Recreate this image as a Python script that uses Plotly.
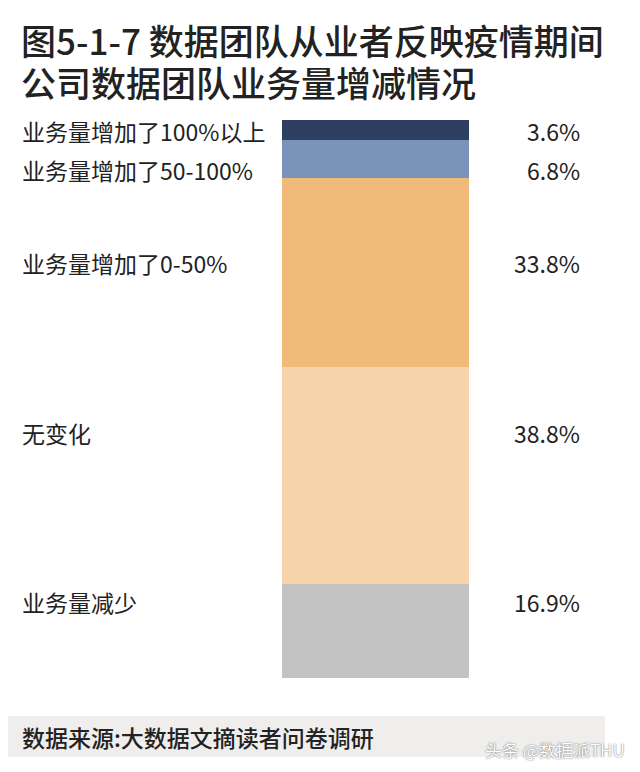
import plotly.graph_objects as go

title_lines = ["图5-1-7 数据团队从业者反映疫情期间", "公司数据团队业务量增减情况"]
categories = ["业务量增加了100%以上", "业务量增加了50-100%", "业务量增加了0-50%", "无变化", "业务量减少"]
values = [3.6, 6.8, 33.8, 38.8, 16.9]
value_labels = ["3.6%", "6.8%", "33.8%", "38.8%", "16.9%"]
colors = ["#2f3f62", "#7b93b8", "#f0bb78", "#f6d3a8", "#c3c3c3"]
label_px = [131, 170, 263, 433, 602]  # vertical pixel positions of the side labels
title_px = [39, 81]

# The page body adds an 8px margin; work in window pixels and subtract it.
OFF = 8
W, H = 640 - OFF, 772 - OFF
FONT = "Noto Sans CJK SC"


def px(x):
    return (x - OFF) / W


def py(y):
    return 1 - (y - OFF) / H


fig = go.Figure()
for cat, val, col in zip(categories, values, colors):
    fig.add_trace(go.Bar(
        x=[0], y=[val], name=cat, width=1,
        marker=dict(color=col, line=dict(width=0)),
        showlegend=False, hoverinfo="skip",
    ))

total = sum(values)
bar_top, bar_bot = 120, 678
left_px, right_px = 282, 469
unit = right_px - left_px

fig.update_layout(
    width=W, height=H,
    margin=dict(l=0, r=0, t=0, b=0),
    barmode="stack",
    paper_bgcolor="white", plot_bgcolor="white",
    xaxis=dict(range=[-0.5 - (left_px - OFF) / unit, 0.5 + (640 - right_px) / unit],
               domain=[0, 1], visible=False, fixedrange=True),
    yaxis=dict(range=[total, 0], domain=[py(bar_bot), py(bar_top)],
               visible=False, fixedrange=True),
    font=dict(family=FONT, color="#222222"),
)

# Title (two lines)
for line, ty in zip(title_lines, title_px):
    fig.add_annotation(
        text=line, xref="paper", yref="paper", x=px(20), y=py(ty),
        xanchor="left", yanchor="middle", align="left", valign="middle",
        showarrow=False, height=40, borderpad=0,
        font=dict(size=35, family=FONT, color="#222222", weight=500),
    )

for cat, vl, ly in zip(categories, value_labels, label_px):
    fig.add_annotation(text=cat, xref="paper", yref="paper",
                       x=px(20), y=py(ly), xanchor="left", yanchor="middle",
                       showarrow=False, font=dict(size=23, family=FONT, color="#222222"))
    fig.add_annotation(text=vl, xref="paper", yref="paper",
                       x=px(582), y=py(ly), xanchor="right", yanchor="middle",
                       showarrow=False, font=dict(size=23, family=FONT, color="#222222"))

# Footer band
fig.add_shape(type="rect", xref="paper", yref="paper",
              x0=px(5), x1=px(605), y0=py(757), y1=py(716),
              fillcolor="#efeeec", line=dict(width=0), layer="below")
fig.add_annotation(text="数据来源:大数据文摘读者问卷调研", xref="paper", yref="paper",
                   x=px(20), y=py(737), xanchor="left", yanchor="middle",
                   showarrow=False,
                   font=dict(size=23, family=FONT, color="#222222", weight=500))
fig.add_annotation(text="头条 @数据派THU", xref="paper", yref="paper",
                   x=px(627), y=py(749), xanchor="right", yanchor="middle",
                   showarrow=False,
                   font=dict(size=17, family=FONT, color="#ffffff",
                             shadow="0px 0px 1.5px #444444"))

fig.write_html("out.html")
